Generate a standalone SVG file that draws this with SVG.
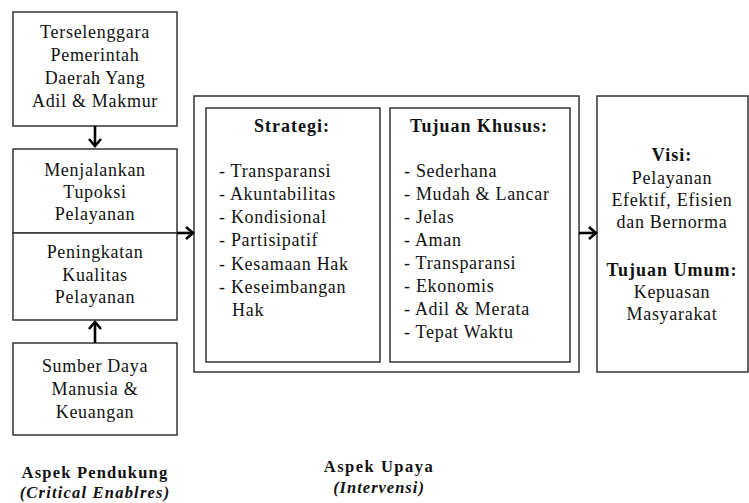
<svg xmlns="http://www.w3.org/2000/svg" width="749" height="503" viewBox="0 0 749 503">
<defs>
<marker id="chev" markerUnits="userSpaceOnUse" markerWidth="14" markerHeight="16" refX="9" refY="8" orient="auto">
<path d="M2,2 L9,8 L2,14" fill="none" stroke="#000" stroke-width="2.6"/>
</marker>
<style>
.box{fill:#fff;stroke:#333;stroke-width:1.5}
.t{font-family:"Liberation Serif","Times New Roman",serif;font-size:18px;fill:#111;letter-spacing:0.7px}
.c{text-anchor:middle}
.b{font-weight:bold;letter-spacing:1px}
.i{font-style:italic}
.s{font-size:16.5px;letter-spacing:1.2px}
.con{stroke:#000;stroke-width:2.6;fill:none}
</style>
</defs>
<rect width="749" height="503" fill="#fff"/>
<g id="n-terselenggara">
<rect class="box" x="13" y="12" width="164" height="114"/>
<text class="t c" x="95" y="38">Terselenggara</text>
<text class="t c" x="95" y="61">Pemerintah</text>
<text class="t c" x="95" y="84">Daerah Yang</text>
<text class="t c" x="95" y="107">Adil &amp; Makmur</text>
</g>
<g id="n-menjalankan">
<rect class="box" x="13" y="149" width="164" height="84"/>
<text class="t c" x="95" y="176">Menjalankan</text>
<text class="t c" x="95" y="198">Tupoksi</text>
<text class="t c" x="95" y="220">Pelayanan</text>
</g>
<g id="n-peningkatan">
<rect class="box" x="13" y="233" width="164" height="87"/>
<text class="t c" x="95" y="258">Peningkatan</text>
<text class="t c" x="95" y="281">Kualitas</text>
<text class="t c" x="95" y="303">Pelayanan</text>
</g>
<g id="n-sumber">
<rect class="box" x="13" y="343" width="164" height="92"/>
<text class="t c" x="95" y="372">Sumber Daya</text>
<text class="t c" x="95" y="395">Manusia &amp;</text>
<text class="t c" x="95" y="418">Keuangan</text>
</g>
<g id="n-upaya">
<rect class="box" x="194" y="96" width="385" height="276"/>
</g>
<g id="n-strategi">
<rect class="box" x="206" y="108" width="174" height="254"/>
<text class="t c b" x="292" y="132">Strategi:</text>
<text class="t" x="219" y="177">- Transparansi</text>
<text class="t" x="219" y="200">- Akuntabilitas</text>
<text class="t" x="219" y="223">- Kondisional</text>
<text class="t" x="219" y="246">- Partisipatif</text>
<text class="t" x="219" y="270">- Kesamaan Hak</text>
<text class="t" x="219" y="293">- Keseimbangan</text>
<text class="t" x="232" y="316">Hak</text>
</g>
<g id="n-tujuankhusus">
<rect class="box" x="390" y="108" width="180" height="254"/>
<text class="t c b" x="479" y="132">Tujuan Khusus:</text>
<text class="t" x="404" y="177">- Sederhana</text>
<text class="t" x="404" y="200">- Mudah &amp; Lancar</text>
<text class="t" x="404" y="223">- Jelas</text>
<text class="t" x="404" y="246">- Aman</text>
<text class="t" x="404" y="269">- Transparansi</text>
<text class="t" x="404" y="292">- Ekonomis</text>
<text class="t" x="404" y="315">- Adil &amp; Merata</text>
<text class="t" x="404" y="338">- Tepat Waktu</text>
</g>
<g id="n-visi">
<rect class="box" x="597" y="96" width="151" height="276"/>
<text class="t c b" x="672" y="161">Visi:</text>
<text class="t c" x="672" y="184">Pelayanan</text>
<text class="t c" x="672" y="206">Efektif, Efisien</text>
<text class="t c" x="672" y="228">dan Bernorma</text>
<text class="t c b" x="672" y="276">Tujuan Umum:</text>
<text class="t c" x="672" y="298">Kepuasan</text>
<text class="t c" x="672" y="320">Masyarakat</text>
</g>
<g id="connectors">
<line class="con" x1="95" y1="126" x2="95" y2="146" marker-end="url(#chev)"/>
<line class="con" x1="95" y1="343" x2="95" y2="322" marker-end="url(#chev)"/>
<line class="con" x1="177" y1="233" x2="193" y2="233" marker-end="url(#chev)"/>
<line class="con" x1="579" y1="233" x2="596" y2="233" marker-end="url(#chev)"/>
</g>
<g id="labels">
<text class="t s c b" x="95" y="478">Aspek Pendukung</text>
<text class="t s c b i" x="95" y="498">(Critical Enablres)</text>
<text class="t s c b" x="379" y="472" style="letter-spacing:1.5px">Aspek Upaya</text>
<text class="t s c b i" x="379" y="493" style="letter-spacing:1px">(Intervensi)</text>
</g>
</svg>
